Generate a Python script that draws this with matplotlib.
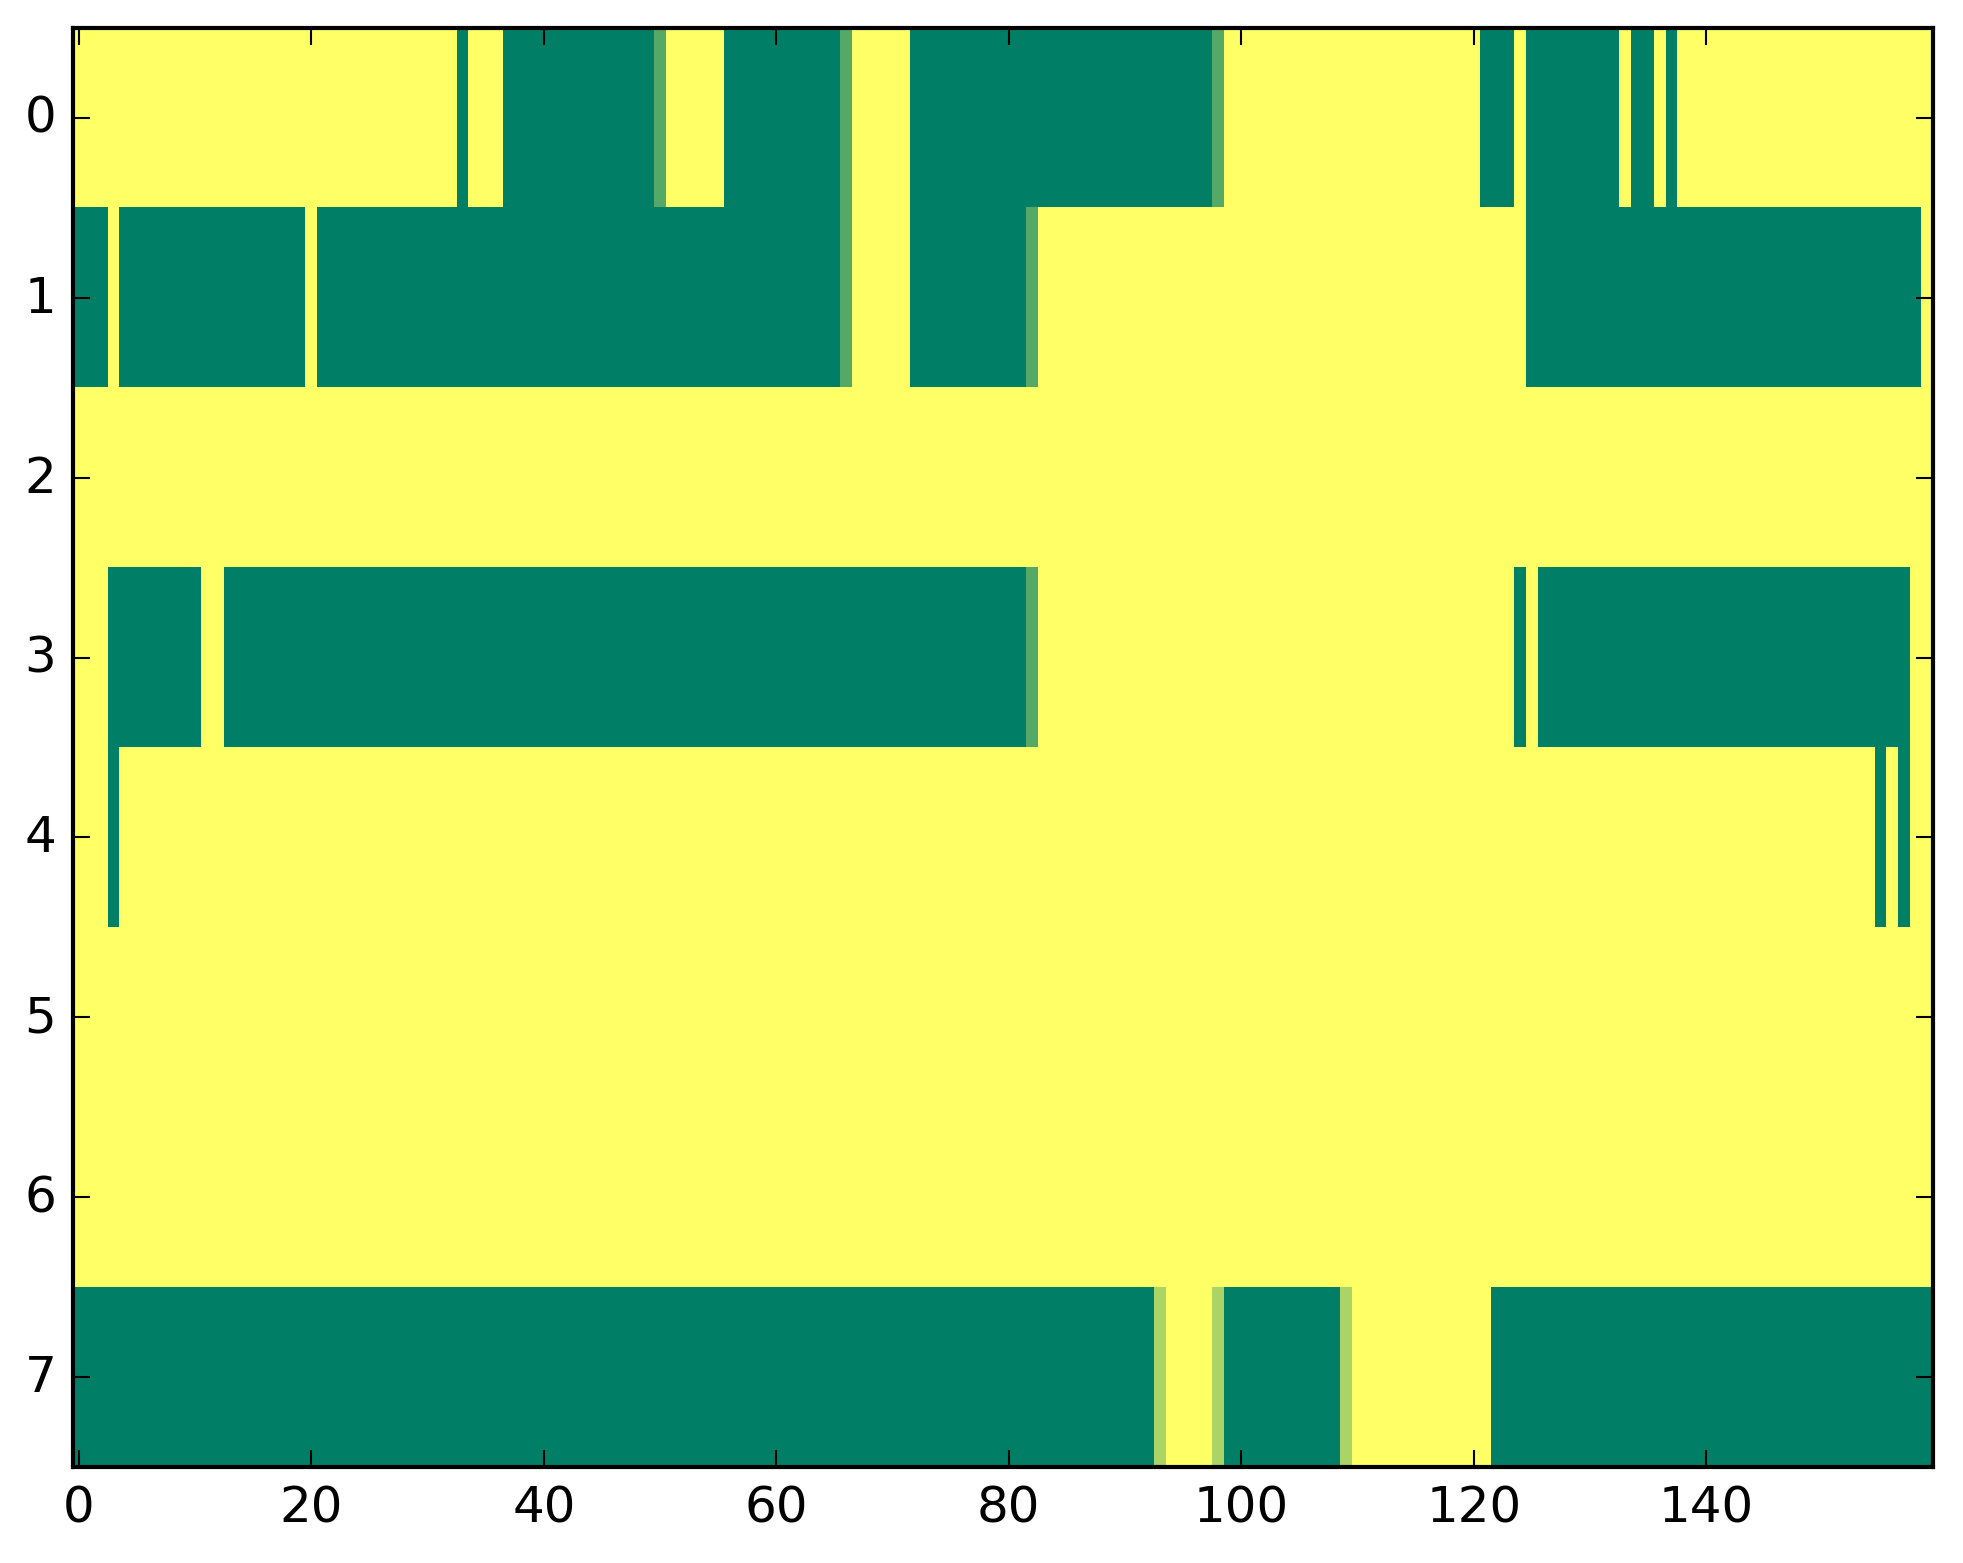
import numpy as np
import matplotlib
matplotlib.use("Agg")
import matplotlib.pyplot as plt

plt.style.use("classic")

# colour values per row as (value, run length); 0 = green, 1 = yellow
Y, G, LG, YG = 1.0, 0.0, 0.33, 0.67

row0 = [(Y, 33), (G, 1), (Y, 3), (G, 13), (LG, 1), (Y, 5), (G, 10), (LG, 1),
        (Y, 5), (G, 26), (LG, 1), (Y, 22), (G, 3), (Y, 1), (G, 8), (Y, 1),
        (G, 2), (Y, 1), (G, 1), (Y, 22)]
row1 = [(G, 3), (Y, 1), (G, 16), (Y, 1), (G, 45), (LG, 1), (Y, 5), (G, 10),
        (LG, 1), (Y, 42), (G, 34), (Y, 1)]
row2 = [(Y, 160)]
row3 = [(Y, 3), (G, 8), (Y, 2), (G, 69), (LG, 1), (Y, 41), (G, 1), (Y, 1),
        (G, 32), (Y, 2)]
row4 = [(Y, 3), (G, 1), (Y, 151), (G, 1), (Y, 1), (G, 1), (Y, 2)]
row5 = [(Y, 160)]
row6 = [(Y, 160)]
row7 = [(G, 93), (YG, 1), (Y, 4), (YG, 1), (G, 10), (YG, 1), (Y, 12), (G, 38)]

rows = [row0, row1, row2, row3, row4, row5, row6, row7]

xticks = [0, 20, 40, 60, 80, 100, 120, 140]
yticks = [0, 1, 2, 3, 4, 5, 6, 7]


def expandir(runs):
    vals = [v for v, n in runs]
    cuenta = [n for v, n in runs]
    return np.repeat(vals, cuenta)


datos = np.vstack([expandir(r) for r in rows])

fig = plt.figure(figsize=(1963 / 300, 1564 / 300), dpi=300, facecolor="white")
ax = fig.add_axes([0.0372, 0.0614, 0.9475, 0.9201])
ax.imshow(datos, cmap="summer", vmin=0, vmax=1, interpolation="nearest",
          aspect="auto")
ax.set_xticks(xticks)
ax.set_yticks(yticks)
ax.set_xlim(-0.5, datos.shape[1] - 0.5)
ax.set_ylim(len(rows) - 0.5, -0.5)
ax.tick_params(labelsize=12)

fig.savefig("out.png", dpi=300, facecolor="white")
